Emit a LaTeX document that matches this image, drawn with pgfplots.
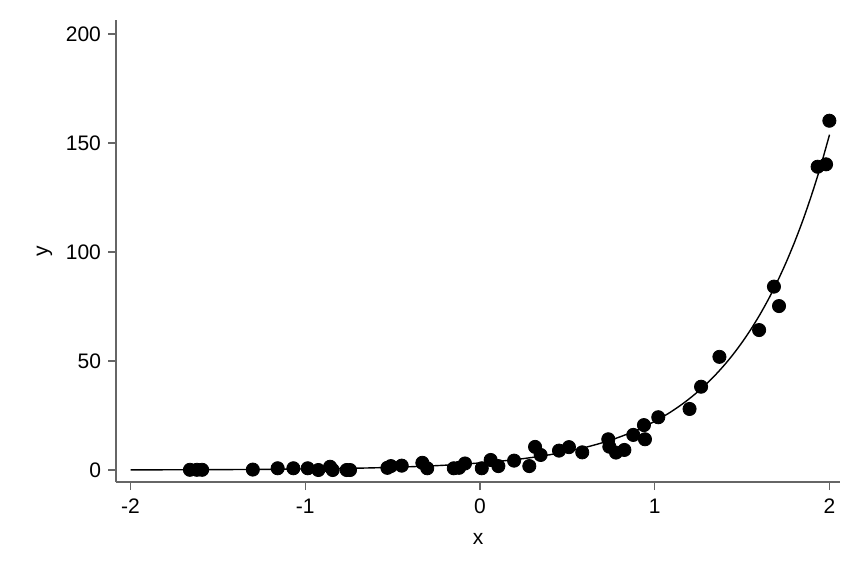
\documentclass[border=0pt]{standalone}
\usepackage{fontspec}
\setmainfont{Liberation Sans}
\usepackage{pgfplots}
\usepackage{pgfplotstable}
\pgfplotsset{compat=1.18}
\pgfplotstableread{
x y
-1.66 0.1
-1.62 0.1
-1.59 0.1
-1.30 0.2
-1.158 0.8
-1.068 0.8
-0.986 0.8
-0.925 0
-0.858 1.5
-0.843 0
-0.763 0
-0.744 0
-0.53 1.0
-0.51 1.8
-0.448 2.0
-0.330 3.3
-0.302 0.8
-0.15 0.8
-0.12 1.0
-0.086 3.0
0.01 0.8
0.061 4.6
0.105 1.8
0.195 4.3
0.282 1.8
0.315 10.6
0.347 6.9
0.452 8.9
0.509 10.5
0.585 8.1
0.734 14.1
0.740 10.7
0.778 8.0
0.826 9.2
0.877 16.1
0.938 20.6
0.944 14.1
1.020 24.2
1.199 28.0
1.265 38.2
1.370 51.9
1.597 64.2
1.682 84.1
1.711 75.2
1.932 139.1
1.980 140.2
1.999 160.2
}\scatterdata
\pgfplotstableread{
x y
-2.0 0.068
-1.8 0.100
-1.6 0.148
-1.4 0.217
-1.2 0.320
-1.0 0.470
-0.8 0.692
-0.6 1.018
-0.4 1.497
-0.2 2.203
0.0 3.240
0.1 3.930
0.2 4.766
0.3 5.781
0.4 7.012
0.5 8.504
0.6 10.315
0.7 12.511
0.8 15.174
0.9 18.404
1.0 22.32
1.05 24.58
1.1 27.07
1.15 29.82
1.2 32.84
1.25 36.17
1.3 39.83
1.35 43.87
1.4 48.31
1.45 53.21
1.5 58.60
1.55 64.53
1.6 71.07
1.65 78.26
1.7 86.19
1.75 94.92
1.8 104.54
1.85 115.1
1.9 126.80
1.95 139.6
2.0 153.8
}\fitdata
\begin{document}
\begin{tikzpicture}
\begin{axis}[
  scale only axis,
  width=362pt, height=231pt,
  xmin=-2.083, xmax=2.06,
  ymin=-5.5, ymax=206.4,
  axis lines*=left,
  axis line style={-, draw=black!60, line width=0.7pt},
  xtick={-2,-1,0,1,2},
  xticklabels={{-2},{-1},{0},{1},{2}},
  ytick={0,50,100,150,200},
  yticklabels={{0},{50},{100},{150},{200}},
  tick align=outside,
  major tick length=4pt,
  tick style={draw=black!60, line width=0.7pt},
  ticklabel style={font=\fontsize{10.5}{12}\selectfont},
  xticklabel style={yshift=-1pt},
  label style={font=\fontsize{10.5}{12}\selectfont},
  xlabel={x}, ylabel={y},
  xlabel style={yshift=-3pt},
  /pgf/number format/assume math mode=true,
]
\addplot[only marks, mark=*, mark size=3.3pt, black, mark options={fill=black}] table[x=x,y=y] {\scatterdata};
\addplot[no marks, smooth, black, line width=0.7pt] table[x=x,y=y] {\fitdata};
\end{axis}
\pgfresetboundingbox
\path (current axis.south west) ++(-58pt,-48pt) rectangle ++(433pt,289pt);
\end{tikzpicture}
\end{document}
